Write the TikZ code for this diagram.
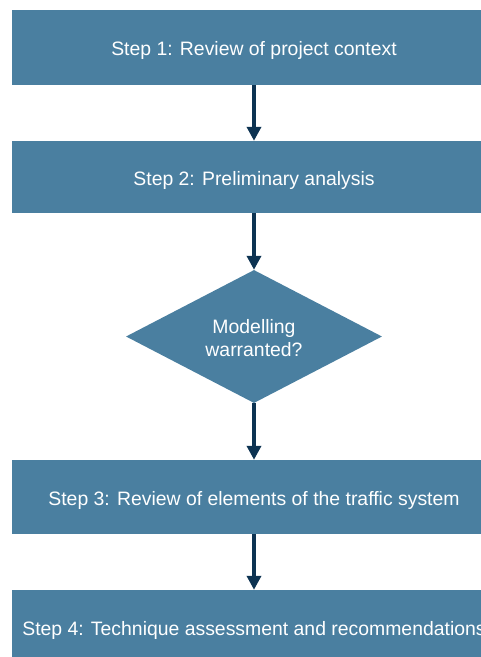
\documentclass[tikz,border=0pt]{standalone}
\usepackage{fontspec}
\setmainfont{Liberation Sans}
\usetikzlibrary{arrows.meta,shapes.geometric}
\definecolor{boxblue}{HTML}{4A7FA0}
\definecolor{arrownavy}{HTML}{0D3352}
\begin{document}
\begin{tikzpicture}[x=1pt,y=-1pt,
  stepbox/.style={rectangle,fill=boxblue,draw=none,minimum width=484pt,inner sep=0pt,
    text=white,text height=16.5pt,text depth=0pt,font=\fontsize{19.4}{23}\selectfont},
  decide/.style={diamond,fill=boxblue,draw=none,inner sep=0pt,minimum width=256pt,minimum height=133pt},
  decidetext/.style={text=white,align=center,font=\fontsize{19.4}{23}\selectfont},
  flow/.style={draw=arrownavy,line width=4pt,-{Triangle[length=14pt,width=14pt]}}]
\useasboundingbox (0,0) rectangle (481,657);
\clip (0,0) rectangle (481,657);
\node[stepbox,minimum height=75pt] (s1) at (254,47.5) {Step 1: Review of project context};
\node[stepbox,minimum height=72pt] (s2) at (254,177) {Step 2: Preliminary analysis};
\node[decide,aspect=1.925] (d) at (254,336.5) {};
\node[decidetext] (dt) at (254,338) {Modelling\\warranted?};
\node[stepbox,minimum height=74pt] (s3) at (254,497) {Step 3: Review of elements of the traffic system};
\node[stepbox,minimum height=74pt] (s4) at (254,627) {Step 4: Technique assessment and recommendations};
\draw[flow] (s1.south) -- (s2.north);
\draw[flow] (s2.south) -- (d.north);
\draw[flow] (d.south) -- (s3.north);
\draw[flow] (s3.south) -- (s4.north);
\end{tikzpicture}
\end{document}
